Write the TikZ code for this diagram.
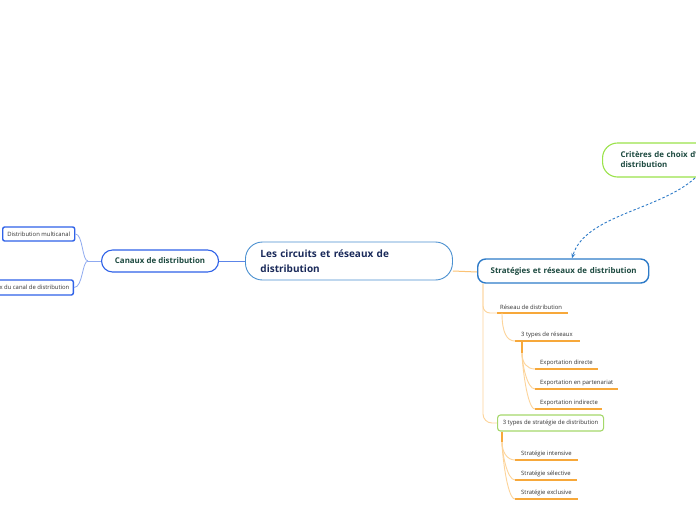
\documentclass[tikz,border=0pt]{standalone}
\usepackage{fontspec}
\setmainfont{Open Sans}
\usetikzlibrary{arrows.meta}
\definecolor{cblue}{HTML}{4A90D0}
\definecolor{kblue}{HTML}{2F62E8}
\definecolor{mblue}{HTML}{5C85E8}
\definecolor{lblue}{HTML}{8FAAF0}
\definecolor{sblue}{HTML}{2E7BC8}
\definecolor{lime}{HTML}{9BE34A}
\definecolor{lgreen}{HTML}{A5D86A}
\definecolor{orng}{HTML}{F7A83A}
\definecolor{lorng}{HTML}{FDD49A}
\definecolor{morng}{HTML}{FBC274}
\definecolor{navy}{HTML}{1A2A5A}
\definecolor{dgreen}{HTML}{1D4A40}
\definecolor{tgray}{HTML}{333333}
\begin{document}
\begin{tikzpicture}[x=1pt,y=-1pt,
  bigtitle/.style={font=\fontsize{10}{15}\selectfont\bfseries, text=navy},
  title/.style={font=\fontsize{7.9}{10}\selectfont\bfseries, text=dgreen},
  small/.style={font=\fontsize{5.9}{7}\selectfont, text=tgray},
  uline/.style={draw=orng, line width=1.4pt},
  lconn/.style={draw=lorng, line width=0.9pt},
  tconn/.style={draw=orng, line width=1.4pt},
  bconn/.style={draw=lblue, line width=0.8pt},
  leaf/.style={small, anchor=south west, inner ysep=3pt, minimum height=0pt},
]
\useasboundingbox (0,0) rectangle (696,520);
\fill[white] (0,0) rectangle (696,520);
\clip (0,0) rectangle (696,520);

% central
\node[bigtitle, draw=cblue, line width=0.9pt, rounded corners=17pt, anchor=west,
  inner xsep=15pt, text width=177pt, minimum height=38pt, align=left] (central) at (245,261)
  {\mbox{Les circuits et réseaux de}\\distribution};

% canaux
\node[title, draw=kblue, line width=1.1pt, rounded corners=11pt, anchor=west,
  minimum width=117pt, minimum height=22pt] (canaux) at (101,261) {Canaux de distribution};
\node[small, draw=kblue, line width=1.4pt, rounded corners=2pt, anchor=west,
  minimum width=72pt, minimum height=14pt, inner xsep=2pt] (multi) at (2,234) {Distribution multicanal};
\node[small, draw=kblue, line width=1.4pt, rounded corners=2pt, anchor=east,
  minimum height=15pt, inner xsep=4pt] (niv) at (74,287.5) {Niveaux du canal de distribution};

% strategies
\node[title, draw=sblue, line width=1.4pt, rounded corners=8pt, anchor=west,
  inner xsep=13pt, text width=145pt, minimum height=24pt, align=left] (strat) at (477,271)
  {\mbox{Stratégies et réseaux de distribution}};

% criteres
\node[title, draw=lime, line width=1.1pt, rounded corners=15pt, anchor=west,
  inner xsep=18pt, text width=150pt, minimum height=34pt, align=left] (crit) at (602,160)
  {\mbox{Critères de choix d'un canal de}\\distribution};

% strategie types box
\node[small, draw=lgreen, line width=1.1pt, rounded corners=3pt, anchor=west,
  minimum width=106pt, minimum height=16pt, inner xsep=3pt] (stypes) at (497,423)
  {3 types de stratégie de distribution};

% leaves
\node[leaf, inner xsep=3pt] (res) at (497,313) {Réseau de distribution};
\node[leaf, inner xsep=6pt] (rtypes) at (515,341) {3 types de réseaux};
\node[leaf, inner xsep=5pt] (e1) at (535,369) {Exportation directe};
\node[leaf, inner xsep=5pt] (e2) at (535,389) {Exportation en partenariat};
\node[leaf, inner xsep=5pt] (e3) at (535,409) {Exportation indirecte};
\node[leaf, inner xsep=6pt] (s1) at (515,460) {Stratégie intensive};
\node[leaf, inner xsep=6pt] (s2) at (515,480) {Stratégie sélective};
\node[leaf, inner xsep=6pt] (s3) at (515,499) {Stratégie exclusive};

\foreach \n/\l in {res/71,rtypes/65,e1/63,e2/83,e3/67,s1/63,s2/62,s3/63}
  \draw[uline] (\n.south west) -- ++(\l,0);

% connectors
\draw[draw=mblue, line width=1pt] (central.west) -- (canaux.east);
\coordinate (cj) at (88,261);
\draw[bconn] (canaux.west) -- (cj);
\draw[bconn] (cj) .. controls (82,261) and (83,234) .. (multi.east);
\draw[bconn] (cj) .. controls (82,261) and (83,287.5) .. (niv.east);

\draw[draw=morng, line width=1pt] ([yshift=-10pt]central.east) -- ([yshift=-1pt]strat.west);

\draw[lconn, rounded corners=7pt] ([xshift=6pt]strat.south west) |- (res.south west);
\draw[lconn, rounded corners=9pt] ([xshift=6pt]strat.south west) |- (stypes.west);

\draw[lconn] ([xshift=5pt]res.south west) .. controls +(0,20) and +(-8,0) .. (rtypes.south west);

\coordinate (rj) at (522,353);
\draw[tconn] ([xshift=7pt]rtypes.south west) -- (rj);
\foreach \n in {e1,e2,e3}
  \draw[lconn] (rj) .. controls +(0,10) and +(-8,0) .. (\n.south west);

\coordinate (sj) at (502,442);
\draw[tconn] ([xshift=5pt]stypes.south west) -- (sj);
\foreach \n in {s1,s2,s3}
  \draw[lconn] (sj) .. controls +(0,10) and +(-8,0) .. (\n.south west);

% dashed arrow
\coordinate (ca) at (695,178);
\draw[draw=sblue, line width=0.9pt, dash pattern=on 2.5pt off 2pt, -{Stealth[length=5pt,width=4pt]}]
  (ca) .. controls (660,210) and (585,215) .. ([xshift=95pt]strat.north west);
\end{tikzpicture}
\end{document}
